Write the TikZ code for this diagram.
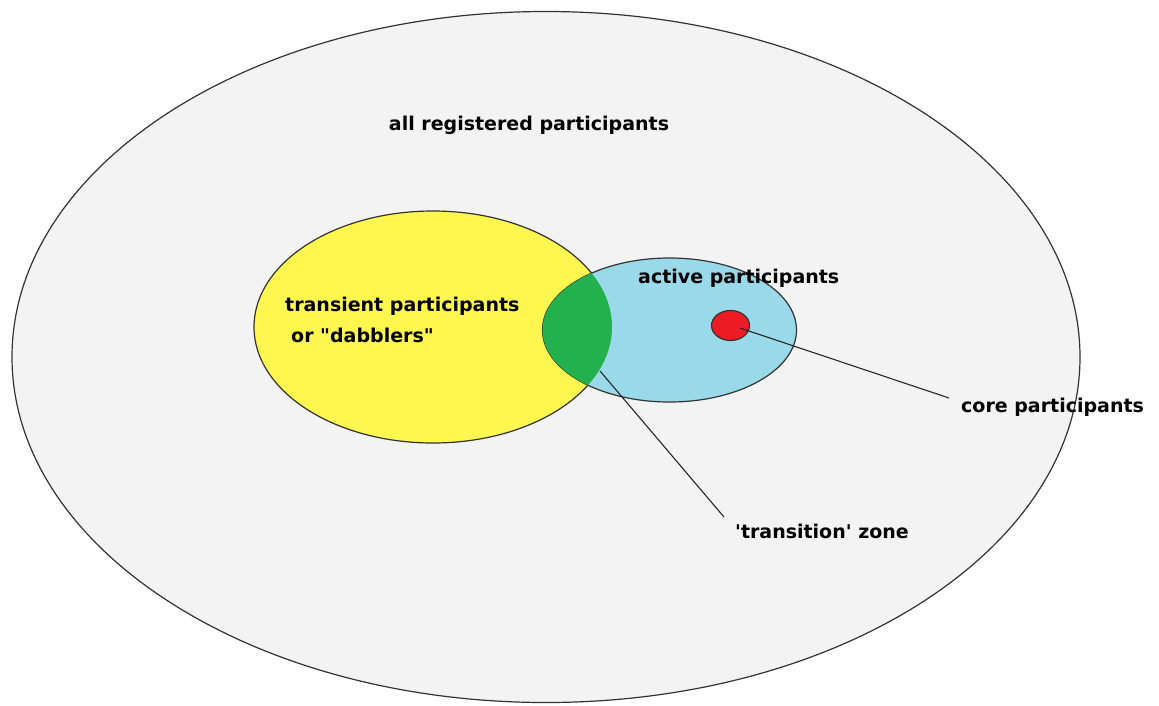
\documentclass[tikz,border=0pt]{standalone}
\usepackage{fontspec}
\setmainfont{DejaVu Sans}
\usepackage{xcolor}
\usepackage{tikz}
\usetikzlibrary{shapes.geometric,positioning}

\definecolor{ringgray}{RGB}{243,243,243}
\definecolor{dabbleyellow}{RGB}{255,247,80}
\definecolor{activeblue}{RGB}{153,217,234}
\definecolor{zonegreen}{RGB}{34,177,76}
\definecolor{corered}{RGB}{237,28,36}

\begin{document}
\begin{tikzpicture}[
        x=1pt, y=-1pt,
        group/.style={ellipse, draw=black!80, line width=1.2pt, inner sep=0pt},
        label/.style={font=\fontsize{19}{31}\selectfont\bfseries, text=black, inner sep=2pt},
        leader/.style={draw=black!85, line width=1.1pt}
    ]
        \useasboundingbox (0,0) rectangle (1159,705);
        \fill[white] (0,0) rectangle (1159,705);

        % Sets
        \node[group, fill=ringgray, minimum width=1068pt, minimum height=691pt] (all) at (546,357) {};
        \node[group, fill=dabbleyellow, minimum width=358pt, minimum height=232pt] (transient) at (433,327) {};
        \node[group, fill=activeblue, minimum width=254pt, minimum height=144pt] (active) at (669.5,330) {};

        % Overlap of transient and active
        \begin{scope}
            \clip (transient.center) ellipse [x radius=179, y radius=116];
            \fill[zonegreen] (active.center) ellipse [x radius=127, y radius=72];
        \end{scope}

        \node[group, fill=corered, minimum width=38pt, minimum height=30pt] (core) at (730.5,325.5) {};

        % Labels
        \node[label] (alllbl) at (529,125) {all registered participants};
        \node[label, anchor=west, align=left] (translbl) at (283,320) {transient participants\\\hspace{6pt}or \textquotedbl dabblers\textquotedbl};
        \node[label, anchor=west] (activelbl) at (636,278) {active participants};
        \node[label, anchor=west] (corelbl) at (959,407) {core participants};
        \node[label, anchor=west] (zonelbl) at (733,531) {\textquotesingle transition\textquotesingle\ zone};

        % Leaders
        \coordinate (corepin) at (740,328);
        \coordinate (zonepin) at (600,371);
        \draw[leader] (corepin) -- ([shift={(-10pt,9pt)}]corelbl.west);
        \draw[leader] (zonepin) -- ([shift={(-9pt,14pt)}]zonelbl.west);
    \end{tikzpicture}
\end{document}
